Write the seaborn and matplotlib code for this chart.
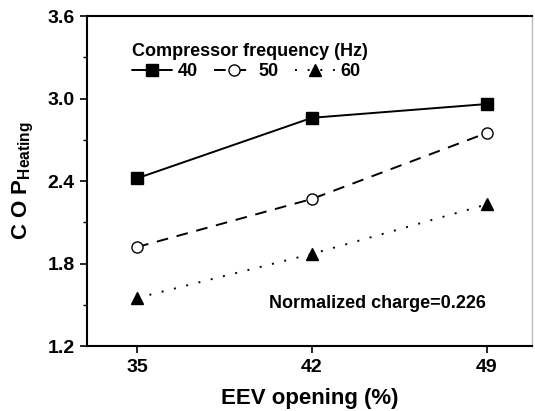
import matplotlib
matplotlib.use("Agg")
import matplotlib.pyplot as plt
import seaborn as sns
import pandas as pd

eev_opening = [35, 42, 49]
cop_40hz = [2.42, 2.86, 2.96]
cop_50hz = [1.92, 2.27, 2.75]
cop_60hz = [1.55, 1.87, 2.23]
freq_labels = ["40", "50", "60"]
y_ticks = [1.2, 1.8, 2.4, 3.0, 3.6]

sns.set_theme(style="ticks")
plt.rcParams["font.family"] = ["Liberation Sans", "DejaVu Sans"]
plt.rcParams["font.weight"] = "bold"
plt.rcParams["mathtext.default"] = "regular"
plt.rcParams["text.color"] = "black"
plt.rcParams["axes.labelcolor"] = "black"
plt.rcParams["xtick.color"] = "black"
plt.rcParams["ytick.color"] = "black"

rows = []
for lab, vals in zip(freq_labels, [cop_40hz, cop_50hz, cop_60hz]):
    for x, y in zip(eev_opening, vals):
        rows.append({"EEV": x, "COP": y, "freq": lab})
df = pd.DataFrame(rows)

fig = plt.figure(figsize=(5.35, 4.11), dpi=100)
ax = fig.add_axes([0.163, 0.158, 0.831, 0.803])

styles = {
    "40": dict(marker="s", mfc="black", dashes=None),
    "50": dict(marker="o", mfc="white", dashes=(6, 4.5)),
    "60": dict(marker="^", mfc="black", dashes=(1, 5.5)),
}
for lab in freq_labels:
    st = styles[lab]
    sns.lineplot(data=df[df["freq"] == lab], x="EEV", y="COP", ax=ax, color="black",
                 marker=st["marker"], markersize=8, markerfacecolor=st["mfc"],
                 markeredgecolor="black", markeredgewidth=1.0, linewidth=1.4,
                 legend=False)
    line = ax.lines[-1]
    if st["dashes"] is not None:
        line.set_dashes(st["dashes"])
    line.set_label(lab)

ax.set_xlim(33, 50.8)
ax.set_ylim(1.2, 3.6)
ax.set_xticks(eev_opening)
ax.set_yticks(y_ticks)
ax.set_yticks([1.5, 2.1, 2.7, 3.3], minor=True)
ax.tick_params(axis="both", which="major", direction="out", length=5, width=1.2,
               labelsize=14, colors="black", right=False, top=False, pad=4)
ax.tick_params(axis="y", which="minor", direction="out", length=3, width=1.0,
               colors="black")
for lbl in ax.get_xticklabels() + ax.get_yticklabels():
    lbl.set_fontweight("bold")

for side in ["left", "bottom", "top"]:
    ax.spines[side].set_color("black")
    ax.spines[side].set_linewidth(1.5)
ax.spines["right"].set_color("#bbbbbb")
ax.spines["right"].set_linewidth(1.0)

ax.set_xlabel("EEV opening (%)", fontsize=16, fontweight="bold", labelpad=9,
              color="black")
ax.set_ylabel("C O P$_{\\mathregular{Heating}}$", fontsize=16, fontweight="bold",
              labelpad=8, color="black")

leg = ax.legend(title="Compressor frequency (Hz)", ncol=3, frameon=False,
                loc="upper left", bbox_to_anchor=(0.085, 0.94),
                handlelength=2.2, handletextpad=0.3, columnspacing=0.9,
                borderaxespad=0, labelspacing=0.2,
                prop={"size": 13, "weight": "bold"},
                title_fontproperties={"size": 13, "weight": "bold"})
leg._legend_box.align = "left"
leg._legend_box.sep = 2
leg.get_title().set_color("black")
for t in leg.get_texts():
    t.set_color("black")

ax.text(0.653, 0.13, "Normalized charge=0.226", transform=ax.transAxes,
        ha="center", va="center", fontsize=13, fontweight="bold", color="black")

fig.savefig("out.png", dpi=100)
